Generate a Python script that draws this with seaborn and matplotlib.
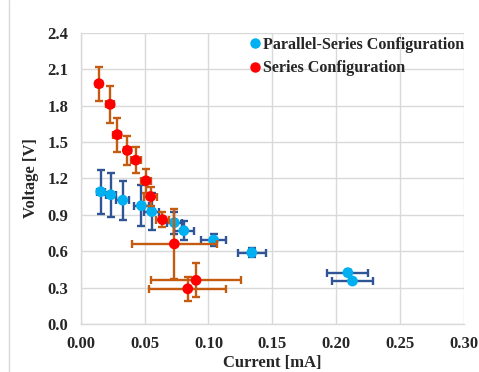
import matplotlib
matplotlib.use("Agg")
import matplotlib.pyplot as plt
import matplotlib.lines as mlines
import seaborn as sns
import pandas as pd
import numpy as np

# Parallel-Series Configuration
ps_current = [0.0157, 0.0235, 0.0329, 0.0475, 0.0556, 0.0733, 0.0807, 0.104, 0.1339, 0.2091, 0.2127]
ps_voltage = [1.09, 1.065, 1.02, 0.975, 0.926, 0.835, 0.769, 0.692, 0.588, 0.423, 0.354]
ps_verr = [0.18, 0.18, 0.16, 0.17, 0.15, 0.09, 0.08, 0.05, 0.04, 0.02, 0.02]
ps_cerr = [0.003, 0.004, 0.005, 0.006, 0.006, 0.006, 0.008, 0.010, 0.011, 0.016, 0.016]

# Series Configuration
s_current = [0.0143, 0.023, 0.0286, 0.0365, 0.0431, 0.0511, 0.0547, 0.064, 0.0733, 0.0903, 0.0838]
s_voltage = [1.98, 1.81, 1.56, 1.43, 1.35, 1.18, 1.05, 0.86, 0.66, 0.36, 0.29]
s_verr = [0.14, 0.15, 0.14, 0.12, 0.11, 0.10, 0.08, 0.06, 0.29, 0.14, 0.10]
s_cerr = [0.002, 0.003, 0.003, 0.003, 0.004, 0.004, 0.005, 0.005, 0.033, 0.035, 0.030]

labels = ["Parallel-Series Configuration", "Series Configuration"]
x_ticks = [0.00, 0.05, 0.10, 0.15, 0.20, 0.25, 0.30]
y_ticks = [0.0, 0.3, 0.6, 0.9, 1.2, 1.5, 1.8, 2.1, 2.4]

df = pd.DataFrame({
    "Current": ps_current + s_current,
    "Voltage": ps_voltage + s_voltage,
    "Config": [labels[0]] * len(ps_current) + [labels[1]] * len(s_current),
})

sns.set_style("white")
plt.rcParams["font.family"] = ["Liberation Serif", "DejaVu Serif"]
plt.rcParams["font.weight"] = "bold"

fig = plt.figure(figsize=(4.79, 3.72), dpi=100)
ax = fig.add_axes([80.7 / 479, 1 - 324 / 372, (464 - 80.7) / 479, (324 - 32.7) / 372])

marker_colors = ["#00B0F0", "#FF0000"]
bar_colors = ["#2F5597", "#C55A11"]

ax.errorbar(ps_current, ps_voltage, yerr=ps_verr, xerr=ps_cerr, fmt="none",
            ecolor=bar_colors[0], elinewidth=1.7, capsize=3, capthick=1.7, zorder=2)
sns.scatterplot(data=df[df.Config == labels[0]], x="Current", y="Voltage", color=marker_colors[0],
                s=60, edgecolor="none", ax=ax, zorder=3, legend=False)
ax.errorbar(s_current, s_voltage, yerr=s_verr, xerr=s_cerr, fmt="none",
            ecolor=bar_colors[1], elinewidth=1.7, capsize=3, capthick=1.7, zorder=4)
sns.scatterplot(data=df[df.Config == labels[1]], x="Current", y="Voltage", color=marker_colors[1],
                s=60, edgecolor="none", ax=ax, zorder=5, legend=False)

ax.set_xlim(0, 0.30)
ax.set_ylim(0, 2.4)
ax.set_xticks(x_ticks)
ax.set_yticks(y_ticks)
ax.set_xticklabels([f"{v:.2f}" for v in x_ticks])
ax.set_yticklabels([f"{v:.1f}" for v in y_ticks])
ax.tick_params(axis="both", length=0, labelsize=12, pad=9)
for lab in ax.get_xticklabels() + ax.get_yticklabels():
    lab.set_fontweight("bold")

ax.grid(True, color="#D9D9D9", linewidth=1)
ax.set_axisbelow(True)
for side in ["top", "right"]:
    ax.spines[side].set_visible(False)
for side in ["left", "bottom"]:
    ax.spines[side].set_color("#D9D9D9")
    ax.spines[side].set_linewidth(1)

ax.set_xlabel("Current [mA]", fontsize=12, fontweight="bold", labelpad=2)
ax.set_ylabel("Voltage [V]", fontsize=12, fontweight="bold", labelpad=6)

handles = [mlines.Line2D([], [], color=c, marker="o", linestyle="none", markersize=6.5)
           for c in marker_colors]
leg = ax.legend(handles, labels, loc="upper left", bbox_to_anchor=(0.405, 1.035), frameon=False,
                handlelength=0.6, handletextpad=0.2, labelspacing=0.45,
                prop={"family": "Liberation Serif", "weight": "bold", "size": 11.6})

fig.add_artist(mlines.Line2D([9 / 479, 9 / 479], [0, 1], color="#D9D9D9", linewidth=1,
                             transform=fig.transFigure))

fig.savefig("out.png", dpi=100)
